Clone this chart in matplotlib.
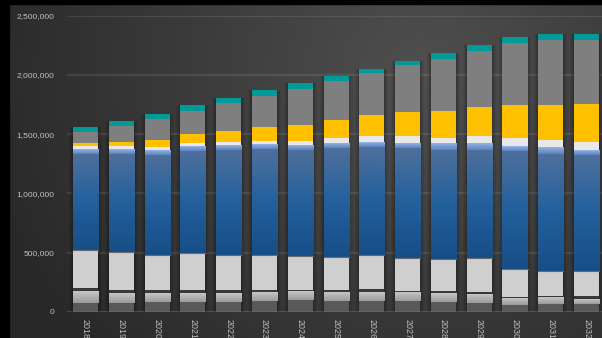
import numpy as np
import matplotlib
matplotlib.use("Agg")
import matplotlib.pyplot as plt
from matplotlib.colors import to_rgb
from matplotlib.patches import Rectangle

# ---------------- data ----------------
years = ["2018", "2019", "2020", "2021", "2022", "2023", "2024", "2025",
         "2026", "2027", "2028", "2029", "2030", "2031", "2032"]

s_dark_grey   = [73000, 73000, 82000, 82000, 82000, 90000, 99000, 90000, 90000, 90000, 82000, 73000, 57000, 65000, 65000]
s_mid_grey    = [93000, 84000, 76000, 76000, 76000, 68000, 68000, 76000, 76000, 68000, 68000, 76000, 59000, 51000, 42000]
s_charcoal    = [34000, 25000, 25000, 25000, 25000, 25000, 17000, 17000, 25000, 17000, 25000, 17000, 8000, 17000, 25000]
s_light_grey  = [321000, 321000, 296000, 313000, 296000, 296000, 287000, 279000, 287000, 279000, 270000, 287000, 236000, 211000, 211000]
s_blue        = [811000, 828000, 845000, 861000, 887000, 895000, 895000, 921000, 912000, 929000, 921000, 912000, 997000, 988000, 980000]
s_light_blue  = [34000, 34000, 34000, 34000, 34000, 34000, 34000, 34000, 36000, 42000, 51000, 51000, 42000, 51000, 42000]
s_white       = [34000, 34000, 34000, 34000, 34000, 34000, 42000, 51000, 57000, 59000, 51000, 68000, 68000, 68000, 68000]
s_yellow      = [25000, 34000, 59000, 76000, 93000, 118000, 135000, 152000, 177000, 203000, 228000, 245000, 279000, 296000, 321000]
s_grey        = [93000, 135000, 177000, 194000, 236000, 262000, 304000, 329000, 355000, 397000, 439000, 473000, 524000, 549000, 541000]
s_teal        = [42000, 42000, 42000, 51000, 42000, 51000, 51000, 42000, 34000, 34000, 51000, 51000, 51000, 51000, 51000]

y_ticks = [0, 500000, 1000000, 1500000, 2000000, 2500000]

series = [s_dark_grey, s_mid_grey, s_charcoal, s_light_grey, s_blue,
          s_light_blue, s_white, s_yellow, s_grey, s_teal]
colors = ["#595959", "#b0b0b0", "#393939", "#d0cfcf", "#2a5f98",
          "#7c9fd8", "#e8e8e8", "#ffc000", "#7f7f7f", "#009a99"]
gradients = {1: ["#c6c6c6", "#9a9a9a"],
             4: ["#4e709c", "#23609c", "#174e87"],
             5: ["#93b3e8", "#5f82bd"]}

W, H, DPI = 602, 338, 100
fig = plt.figure(figsize=(W / DPI, H / DPI), dpi=DPI)

# ---------------- background ----------------
bg = fig.add_axes([0, 0, 1, 1], zorder=-10)
yy, xx = np.mgrid[0:H, 0:W]
d = np.sqrt((xx - 420.0) ** 2 + ((yy - 70.0) * 1.1) ** 2)
lum = np.clip(79 - 0.085 * d, 40, 82) / 255.0
bg.imshow(np.dstack([lum, lum, lum]), extent=(0, 1, 0, 1), aspect="auto",
          origin="upper", interpolation="bilinear")
bg.set_xlim(0, 1)
bg.set_ylim(0, 1)
bg.axis("off")
fig.patches.append(Rectangle((0, 1 - 4 / H), 1, 4 / H, transform=fig.transFigure,
                             color="black", zorder=5))
fig.patches.append(Rectangle((0, 0), 9 / W, 1, transform=fig.transFigure,
                             color="black", zorder=5))

# ---------------- main axes ----------------
left = 67 / W
bottom = (H - 311.7) / H
top = (H - 15.7) / H
ax = fig.add_axes([left, bottom, 1 - left, top - bottom])
ax.set_facecolor("none")

x = np.arange(len(years))
bw = 0.70
totals = np.sum(np.array(series), axis=0)

# soft shadows
for extra, a in [(0.22, 0.05), (0.16, 0.06), (0.10, 0.08), (0.05, 0.10)]:
    ax.bar(x, totals, width=bw + extra, color="black", alpha=a, zorder=1, linewidth=0)


def grad_fill(patch, cols):
    x0, y0 = patch.get_x(), patch.get_y()
    w, h = patch.get_width(), patch.get_height()
    n = 64
    rgb = [np.array(to_rgb(c)) for c in cols]
    pos = np.linspace(0, 1, len(rgb))
    t = np.linspace(0, 1, n)
    arr = np.zeros((n, 1, 3))
    for k in range(3):
        arr[:, 0, k] = np.interp(t, pos, [c[k] for c in rgb])
    ax.imshow(arr, extent=(x0, x0 + w, y0, y0 + h), aspect="auto", origin="upper",
              interpolation="bilinear", zorder=3)


base = np.zeros(len(years))
for i, (vals, col) in enumerate(zip(series, colors)):
    bars = ax.bar(x, vals, bottom=base, width=bw, color=col, zorder=2, linewidth=0)
    if i in gradients:
        for p in bars.patches:
            grad_fill(p, gradients[i])
    base = base + np.array(vals)

# thin separator at top of the light grey block
sep = np.sum(np.array(series[:4]), axis=0)
for xi, s in zip(x, sep):
    ax.plot([xi - bw / 2, xi + bw / 2], [s, s], color="#6a6a6a", lw=0.8, zorder=4)

ax.set_xlim(-0.517, 14.43)
ax.set_ylim(0, 2500000)

ax.set_yticks(y_ticks)
ax.set_yticklabels([f"{v:,}" for v in y_ticks])
ax.set_xticks(x)
ax.set_xticklabels(years, rotation=-90, va="top", ha="center")
ax.tick_params(axis="both", length=0, colors="#c0c0c0")
ax.tick_params(axis="y", pad=9, labelsize=6.0)
ax.tick_params(axis="x", pad=5, labelsize=6.4)
for lab in ax.get_xticklabels() + ax.get_yticklabels():
    lab.set_family("Liberation Sans")

for sp in ax.spines.values():
    sp.set_visible(False)
ax.yaxis.grid(True, color="white", alpha=0.09, lw=1.6)
ax.set_axisbelow(True)
ax.axhline(0, color="#909090", lw=1.0, zorder=6)

fig.savefig("out.png", dpi=DPI)
